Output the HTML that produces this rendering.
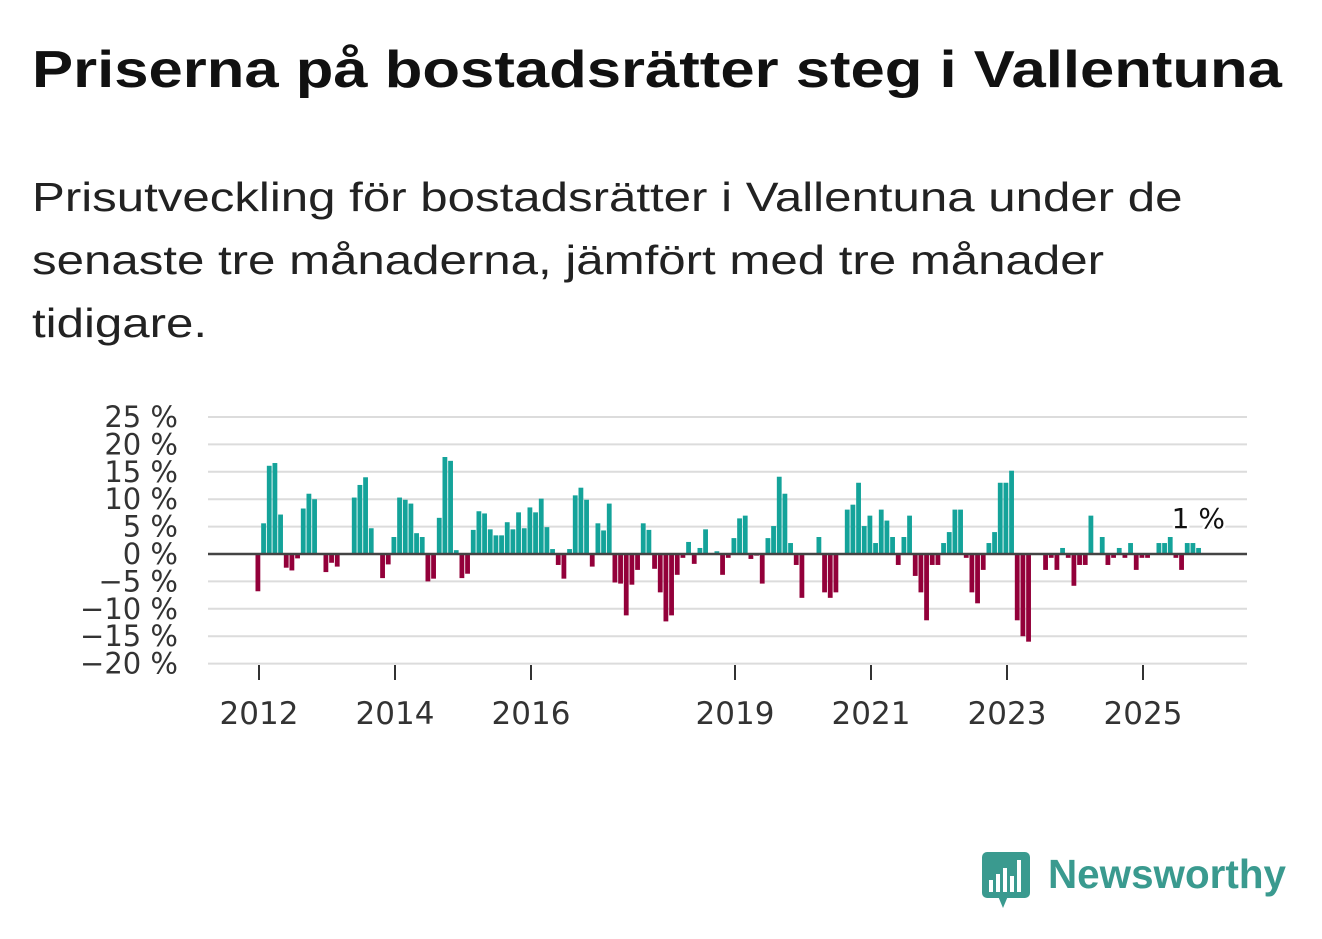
<!DOCTYPE html>
<html><head><meta charset="utf-8">
<style>
body{margin:0;background:#fff;width:1322px;height:939px;overflow:hidden;font-family:"Liberation Sans",sans-serif;}
#title{position:absolute;left:32px;top:40px;font-size:52px;font-weight:bold;color:#111;white-space:nowrap;transform:scaleX(1.185);transform-origin:0 0}
#subtitle{position:absolute;left:32px;top:166px;font-size:41px;line-height:63px;color:#222;white-space:nowrap;transform:scaleX(1.2);transform-origin:0 0}
#logo{position:absolute;left:980px;top:850px;}
</style></head><body>
<div id="title">Priserna på bostadsrätter steg i Vallentuna</div>
<div id="subtitle">Prisutveckling för bostadsrätter i Vallentuna under de<br>senaste tre månaderna, jämfört med tre månader<br>tidigare.</div>
<svg id="chart" width="1322" height="939" style="position:absolute;left:0;top:0"></svg>
<svg id="logo" width="320" height="62">
<rect x="2" y="2" width="48" height="46" rx="5" fill="#3a9a8f"/>
<polygon points="18,46 28,46 23,58" fill="#3a9a8f"/>
<rect x="9" y="30" width="4" height="12" fill="#fff"/><rect x="16" y="24" width="4" height="18" fill="#fff"/><rect x="23" y="18" width="4" height="24" fill="#fff"/><rect x="30" y="26" width="4" height="16" fill="#fff"/><rect x="37" y="10" width="4" height="32" fill="#fff"/>
<text x="68" y="38" font-size="41" fill="#3a9a8f" font-family="Liberation Sans, sans-serif" font-weight="bold" textLength="238" lengthAdjust="spacingAndGlyphs">Newsworthy</text>
</svg>
<script>
const values = [-6.8,5.6,16.1,16.6,7.2,-2.5,-3,-0.8,8.3,11,10,0,-3.3,-1.6,-2.3,0,0,
10.3,12.6,14,4.7,0,-4.4,-1.9,3.1,10.3,9.9,9.2,3.8,3.1,-5,-4.5,6.6,17.7,17,0.7,-4.4,-3.6,4.4,7.8,7.4,
4.5,3.4,3.4,5.8,4.5,7.6,4.7,8.5,7.6,10.1,4.9,0.9,-2,-4.5,0.9,10.7,12.1,9.9,-2.3,5.6,4.3,9.2,-5.2,-5.4,-11.2,-5.6,-2.9,5.6,4.4,-2.7,-7,-12.3,-11.2,-3.8,-0.7,2.2,-1.8,1.1,4.5,0,0.5,-3.8,
-0.7,2.9,6.5,7,-0.9,-0.3,-5.4,2.9,5.1,14.1,11,2,-2,-8,0,0,3.1,-7,-8,-7,0,8.1,9,13,5.1,7,2,8.1,6.1,3.1,-2,3.1,7,-4,-7,-12.1,-2,-2,2,4,8.1,8.1,-0.7,
-7,-9,-2.9,2,4,13,13,15.2,-12.1,-15,-16,0,0,-2.9,-0.7,-2.9,1.1,-0.7,-5.8,-2,-2,7,0,3.1,-2,-0.7,1.1,-0.7,2,-2.9,-0.7,-0.7,0,2,2,3.1,-0.7,-2.9,2,2,1.1];
const startYear = 2012;
const yTicks = [25,20,15,10,5,0,-5,-10,-15,-20];
const xTickYears = [2012,2014,2016,2019,2021,2023,2025];
const lastLabel = "1 %";

const svg = document.getElementById('chart');
const NS = 'http://www.w3.org/2000/svg';
const X0 = 258, PX_MONTH = 68/12, Y0 = 554, PX_PCT = 137/25;
const xScale = m => X0 + m*PX_MONTH;
const yScale = v => Y0 - v*PX_PCT;
function mk(tag, attrs){const e=document.createElementNS(NS,tag);for(const k in attrs)e.setAttribute(k,attrs[k]);svg.appendChild(e);return e;}

yTicks.forEach(t=>{
  const g = mk('line',{x1:208,x2:1247,y1:yScale(t),y2:yScale(t),stroke:'#dcdcdc','stroke-width':2});
  
  
  const tx = mk('text',{x:178,y:yScale(t)+10,'text-anchor':'end','font-size':29,fill:'#333','font-family':'DejaVu Sans, sans-serif'});
  tx.textContent = (t<0?'\u2212'+(-t):t)+' %';
  
  
});
values.forEach((v,i)=>{
  const x = xScale(i)-2.5;
  const y = v>=0?yScale(v):Y0;
  const r = mk('rect',{x:x,y:y,width:4.8,height:Math.abs(v)*PX_PCT,fill:v>=0?'#14a39a':'#93003a'});
  
  
});
const z = mk('line',{x1:208,x2:1247,y1:Y0,y2:Y0,stroke:'#444','stroke-width':2.5});


xTickYears.forEach(yr=>{
  const x = xScale((yr-startYear)*12)+1;
  const l = mk('line',{x1:x,x2:x,y1:665,y2:680,stroke:'#333','stroke-width':2});
  
  
  const t = mk('text',{x:x,y:724,'text-anchor':'middle','font-size':31,fill:'#333','font-family':'DejaVu Sans, sans-serif'});
  t.textContent = yr;
  
  
});
const lastX = xScale(values.length-1);
const lab = mk('text',{x:lastX-27,y:528,'font-size':28,fill:'#111',stroke:'#fff','stroke-width':5,'paint-order':'stroke','font-family':'DejaVu Sans, sans-serif'});
lab.textContent = lastLabel;


</script>
</body></html>
